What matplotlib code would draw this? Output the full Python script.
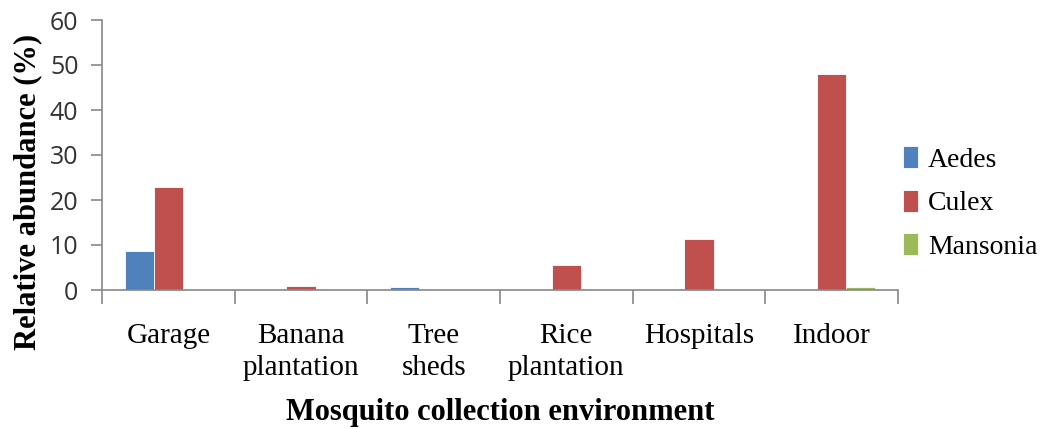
import matplotlib
matplotlib.use("Agg")
import matplotlib.pyplot as plt
import numpy as np

categories = ["Garage", "Banana\nplantation", "Tree\nsheds", "Rice\nplantation", "Hospitals", "Indoor"]
series_names = ["Aedes", "Culex", "Mansonia"]
aedes = [8.7, 0.0, 0.6, 0.0, 0.0, 0.0]
culex = [22.9, 1.0, 0.0, 5.6, 11.3, 48.0]
mansonia = [0.0, 0.0, 0.0, 0.0, 0.0, 0.6]
colors = ["#4F81BD", "#C0504D", "#9BBB59"]
yticks = [0, 10, 20, 30, 40, 50, 60]

fig = plt.figure(figsize=(10.49, 4.29), dpi=100)
ax = fig.add_axes([102/1049, 1-290/429, (898-102)/1049, 270/429])

x = np.arange(len(categories))
w = 0.22
for i, (vals, name) in enumerate(zip([aedes, culex, mansonia], series_names)):
    ax.bar(x + (i-1)*w, vals, width=w, color=colors[i], label=name,
           edgecolor="white", linewidth=0.6)

ax.set_xlim(-0.5, len(categories)-0.5)
ax.set_ylim(0, 60)
ax.set_yticks(yticks)
ax.set_yticklabels([str(v) for v in yticks], fontfamily="Open Sans", fontsize=18, color="#333333")
ax.set_xticks(x)
ax.set_xticklabels(categories, fontfamily="Liberation Serif", fontsize=21, linespacing=1.3)
ax.tick_params(axis="x", length=0, pad=24)
ax.set_xticks(np.arange(-0.5, len(categories)), minor=True)
ax.tick_params(axis="x", which="minor", length=10, width=1.2, color="#888888", direction="out")
ax.tick_params(axis="y", length=8, width=1.2, color="#888888", direction="out", pad=9)

for s in ["top", "right"]:
    ax.spines[s].set_visible(False)
for s in ["left", "bottom"]:
    ax.spines[s].set_color("#888888")
    ax.spines[s].set_linewidth(1.2)

ax.set_ylabel("Relative abundance (%)", fontfamily="Liberation Serif", fontweight="bold", fontsize=22)
ax.set_xlabel("Mosquito collection environment", fontfamily="Liberation Serif", fontweight="bold", fontsize=22, labelpad=12)
ax.yaxis.set_label_coords(-0.075, 0.365)

leg = fig.legend(loc="center left", bbox_to_anchor=(903/1049, 1-203/429), frameon=False,
                 prop={"family": "Liberation Serif", "size": 20}, handlelength=0.55, handleheight=0.85,
                 handletextpad=0.35, labelspacing=0.6, borderpad=0.0, borderaxespad=0.0)

fig.savefig("out.png", dpi=100)
